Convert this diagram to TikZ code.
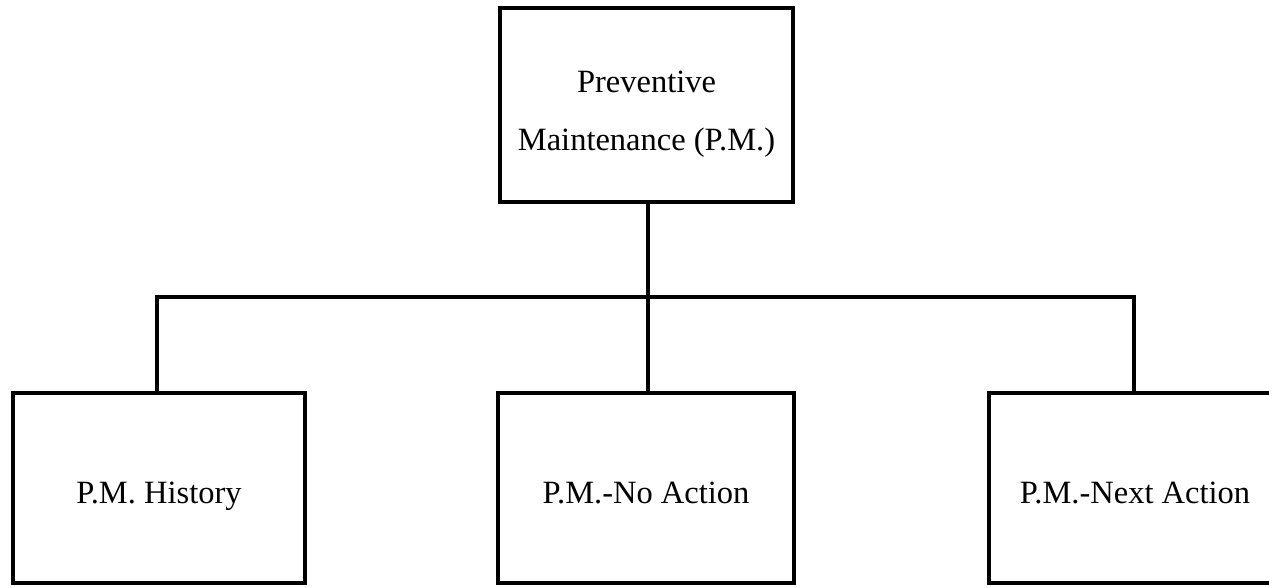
\documentclass[tikz,border=0pt]{standalone}
\usepackage{fontspec}
\setmainfont{Liberation Serif}
\begin{document}
\begin{tikzpicture}[x=1pt,y=-1pt,
  frame/.style={draw=black, line width=3.8pt, inner sep=0pt},
  label text/.style={inner sep=0pt, align=center,
    font=\fontsize{32.5}{58}\selectfont},
  box/.style={frame, label text, text height=32pt, text depth=2pt},
  link/.style={draw=black, line width=3.8pt}]
  \clip (0,0) rectangle (1269,587);
  \fill[white] (0,0) rectangle (1269,587);

  % root of the tree
  \node[frame, minimum width=293pt, minimum height=194pt] (pm) at (646.5,105) {};
  \node[label text] (pmtext) at (646.5,114) {Preventive\\Maintenance (P.M.)};

  % three branches
  \node[box, minimum width=292pt, minimum height=190pt] (hist) at (159,488) {P.M. History};
  \node[box, minimum width=296pt, minimum height=190pt] (noact) at (646,488) {P.M.-No Action};
  \node[box, minimum width=292pt, minimum height=190pt] (next) at (1135,488) {P.M.-Next Action};

  % branch bar
  \coordinate (busL) at (157,297);
  \coordinate (busR) at (1134,297);

  \draw[link] (pm.south -| 648,0) -- (noact.north -| 648,0);
  \draw[link] (busL |- hist.north) -- (busL) -- (busR) -- (busR |- next.north);
\end{tikzpicture}
\end{document}
